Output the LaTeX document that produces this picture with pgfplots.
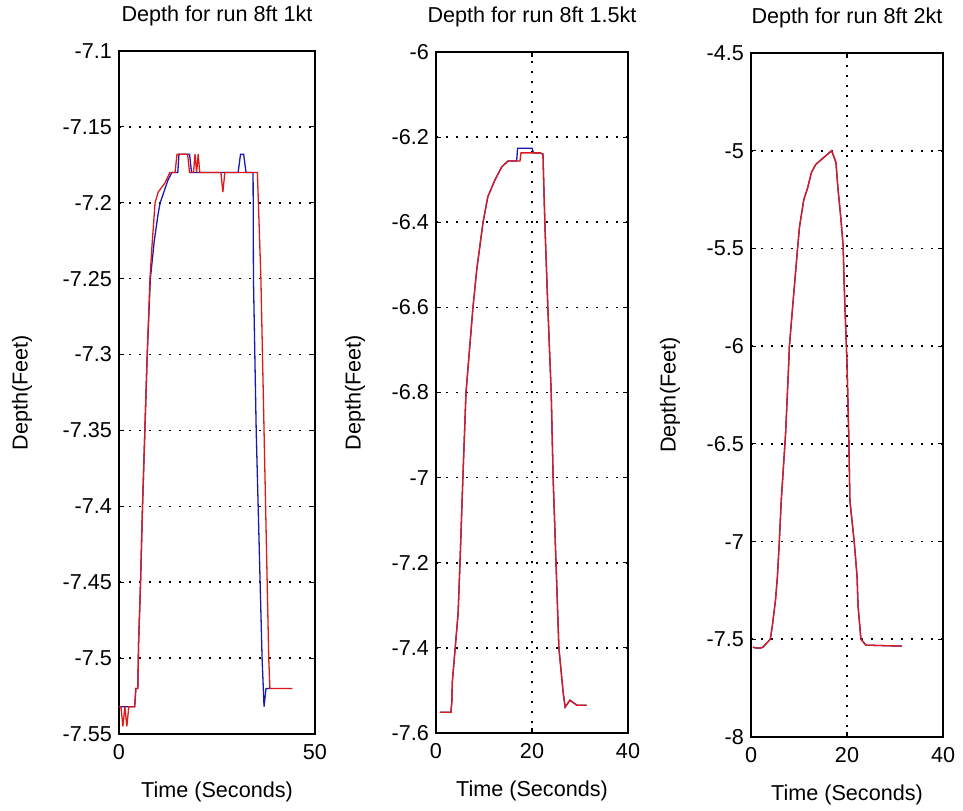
\documentclass[border=0pt]{standalone}
\usepackage{pgfplots}
\pgfplotsset{compat=1.18}
\usepackage{fontspec}
\setmainfont{Liberation Sans}

\definecolor{mblue}{HTML}{1A1AB0}
\definecolor{mred}{HTML}{E01818}
\newcommand{\mfont}{\fontsize{10.8}{12}\selectfont}

\pgfplotsset{
  every axis title shift=0pt,
  matfig/.style={
    scale only axis, anchor=south west,
    axis line style={line width=0.55pt, black},
    tick align=inside, tick pos=both, major tick length=2.6pt,
    every tick/.style={black, line width=0.55pt},
    grid=major,
    major grid style={black, line width=0.8pt, dash pattern=on 0.8pt off 4.2pt},
    tick label style={font=\mfont},
    xticklabel style={yshift=-1.5pt},
    label style={font=\mfont},
    title style={font=\mfont, at={(axis description cs:0.5,1)}, anchor=center, yshift=17.5pt},
    xlabel style={at={(axis description cs:0.5,0)}, anchor=center, yshift=-29pt},
    xlabel={Time (Seconds)}, ylabel={Depth(Feet)},
    every axis plot/.append style={line width=0.65pt, mark=none},
  }
}

\begin{document}
\begin{tikzpicture}
\useasboundingbox (0,0) rectangle (481.5pt,405pt);

% run 8ft 1kt
\begin{axis}[matfig, at={(59.5pt,38pt)}, width=98pt, height=341.5pt,
  xmin=0, xmax=50, ymin=-7.55, ymax=-7.1,
  xtick={0,50}, xticklabels={0,50},
  ytick={-7.55,-7.5,-7.45,-7.4,-7.35,-7.3,-7.25,-7.2,-7.15,-7.1},
  yticklabels={-7.55,-7.5,-7.45,-7.4,-7.35,-7.3,-7.25,-7.2,-7.15,-7.1},
  ylabel style={at={(axis description cs:-0.495,0.5)}, anchor=center},
  title={Depth for run 8ft 1kt}]
\addplot[mblue] coordinates {
 (0,-7.532) (4,-7.532) (4.3,-7.52) (4.8,-7.52) (5.0,-7.49) (5.5,-7.45)
 (6,-7.40) (6.6,-7.35) (7.2,-7.30) (8,-7.25) (9,-7.225) (10,-7.207)
 (10.5,-7.20) (12.5,-7.185) (13.5,-7.18) (15,-7.18) (15.3,-7.168)
 (18,-7.168) (18.5,-7.18) (30.4,-7.18) (31,-7.168) (31.8,-7.168)
 (32.4,-7.18) (34.2,-7.18) (34.3,-7.25) (35,-7.35) (35.5,-7.40)
 (36,-7.45) (36.5,-7.50) (37,-7.532) (37.3,-7.525) (37.5,-7.52) (38.5,-7.52)};
\addplot[mred] coordinates {
 (0,-7.532) (0.5,-7.532) (1,-7.545) (1.5,-7.532) (2,-7.545) (2.5,-7.532)
 (4,-7.532) (4.3,-7.52) (4.8,-7.52) (5.0,-7.49) (5.5,-7.45) (6,-7.40)
 (6.6,-7.35) (7.2,-7.30) (7.9,-7.25) (8.4,-7.229) (9.2,-7.20) (10,-7.193)
 (11.7,-7.187) (13,-7.18) (14.3,-7.18) (14.8,-7.168) (17.5,-7.168)
 (18,-7.18) (19,-7.18) (19.4,-7.168) (19.8,-7.18) (20.2,-7.168)
 (20.6,-7.18) (26,-7.18) (26.5,-7.193) (27,-7.18) (35.3,-7.18)
 (36.2,-7.25) (36.6,-7.30) (37,-7.35) (37.4,-7.40) (37.8,-7.45)
 (38.2,-7.50) (38.5,-7.52) (44.2,-7.52)};
\end{axis}

% run 8ft 1.5kt
\begin{axis}[matfig, at={(218pt,38.5pt)}, width=96pt, height=340.5pt,
  xmin=0, xmax=40, ymin=-7.6, ymax=-6,
  xtick={0,20,40}, xticklabels={0,20,40},
  ytick={-7.6,-7.4,-7.2,-7,-6.8,-6.6,-6.4,-6.2,-6},
  yticklabels={-7.6,-7.4,-7.2,-7,-6.8,-6.6,-6.4,-6.2,-6},
  ylabel style={at={(axis description cs:-0.422,0.5)}, anchor=center},
  title={Depth for run 8ft 1.5kt}]
\addplot[mblue] coordinates {
 (0.8,-7.551) (3.1,-7.551) (3.3,-7.527) (3.4,-7.48) (4.0,-7.40) (4.6,-7.32)
 (5.0,-7.20) (5.6,-7.00) (6.25,-6.80) (7.7,-6.60) (8.5,-6.51) (9.8,-6.40)
 (10.8,-6.34) (12.3,-6.30) (13.7,-6.27) (15,-6.256) (16.8,-6.256)
 (17,-6.226) (20,-6.226) (20.3,-6.237) (21.7,-6.237) (22.3,-6.24)
 (22.4,-6.29) (22.7,-6.41) (23.3,-6.60) (24,-6.80) (24.4,-7.00) (25,-7.20)
 (25.6,-7.40) (26.5,-7.506) (26.9,-7.539) (27.9,-7.523) (29.4,-7.535) (31.4,-7.535)};
\addplot[mred] coordinates {
 (0.8,-7.551) (3.1,-7.551) (3.3,-7.527) (3.4,-7.48) (4.0,-7.40) (4.6,-7.32)
 (5.0,-7.20) (5.6,-7.00) (6.25,-6.80) (7.7,-6.60) (8.5,-6.51) (9.8,-6.40)
 (10.8,-6.34) (12.3,-6.30) (13.7,-6.27) (15,-6.256) (17.5,-6.256)
 (17.7,-6.237) (20.2,-6.237) (21.7,-6.237) (22.3,-6.24)
 (22.4,-6.29) (22.7,-6.41) (23.3,-6.60) (24,-6.80) (24.4,-7.00) (25,-7.20)
 (25.6,-7.40) (26.5,-7.506) (26.9,-7.539) (27.9,-7.523) (29.4,-7.535) (31.4,-7.535)};
\end{axis}

% run 8ft 2kt
\begin{axis}[matfig, at={(375.5pt,36.5pt)}, width=96pt, height=342pt,
  xmin=0, xmax=40, ymin=-8, ymax=-4.5,
  xtick={0,20,40}, xticklabels={0,20,40},
  ytick={-8,-7.5,-7,-6.5,-6,-5.5,-5,-4.5},
  yticklabels={-8,-7.5,-7,-6.5,-6,-5.5,-5,-4.5},
  ylabel style={at={(axis description cs:-0.422,0.5)}, anchor=center},
  title={Depth for run 8ft 2kt}]
\addplot[mblue] coordinates {
 (0.4,-7.54) (1,-7.545) (2,-7.545) (2.5,-7.54) (4,-7.50) (4.4,-7.44)
 (5.1,-7.30) (5.5,-7.18) (5.9,-7.00) (6.3,-6.79) (7.2,-6.45) (7.8,-6.12)
 (8.0,-6.00) (8.6,-5.82) (9.7,-5.50) (10.1,-5.39) (11,-5.25) (11.8,-5.19)
 (12.6,-5.11) (13.5,-5.07) (14.9,-5.04) (16.8,-5.00) (17.7,-5.06)
 (18.1,-5.19) (18.7,-5.34) (19.2,-5.49) (19.4,-5.68) (20,-6.09)
 (20.4,-6.50) (20.6,-6.79) (21.5,-7.00) (22.1,-7.18) (22.3,-7.33)
 (22.9,-7.50) (23.6,-7.52) (24,-7.53) (31.4,-7.535)};
\addplot[mred] coordinates {
 (0.4,-7.54) (1,-7.545) (2,-7.545) (2.5,-7.54) (4,-7.50) (4.4,-7.44)
 (5.1,-7.30) (5.5,-7.18) (5.9,-7.00) (6.3,-6.79) (7.2,-6.45) (7.8,-6.12)
 (8.0,-6.00) (8.6,-5.82) (9.7,-5.50) (10.1,-5.39) (11,-5.25) (11.8,-5.19)
 (12.6,-5.11) (13.5,-5.07) (14.9,-5.04) (16.8,-5.00) (17.7,-5.06)
 (18.1,-5.19) (18.7,-5.34) (19.2,-5.49) (19.4,-5.68) (20,-6.09)
 (20.4,-6.50) (20.6,-6.79) (21.5,-7.00) (22.1,-7.18) (22.3,-7.33)
 (22.9,-7.50) (23.6,-7.52) (24,-7.53) (31.4,-7.535)};
\end{axis}
\end{tikzpicture}
\end{document}
